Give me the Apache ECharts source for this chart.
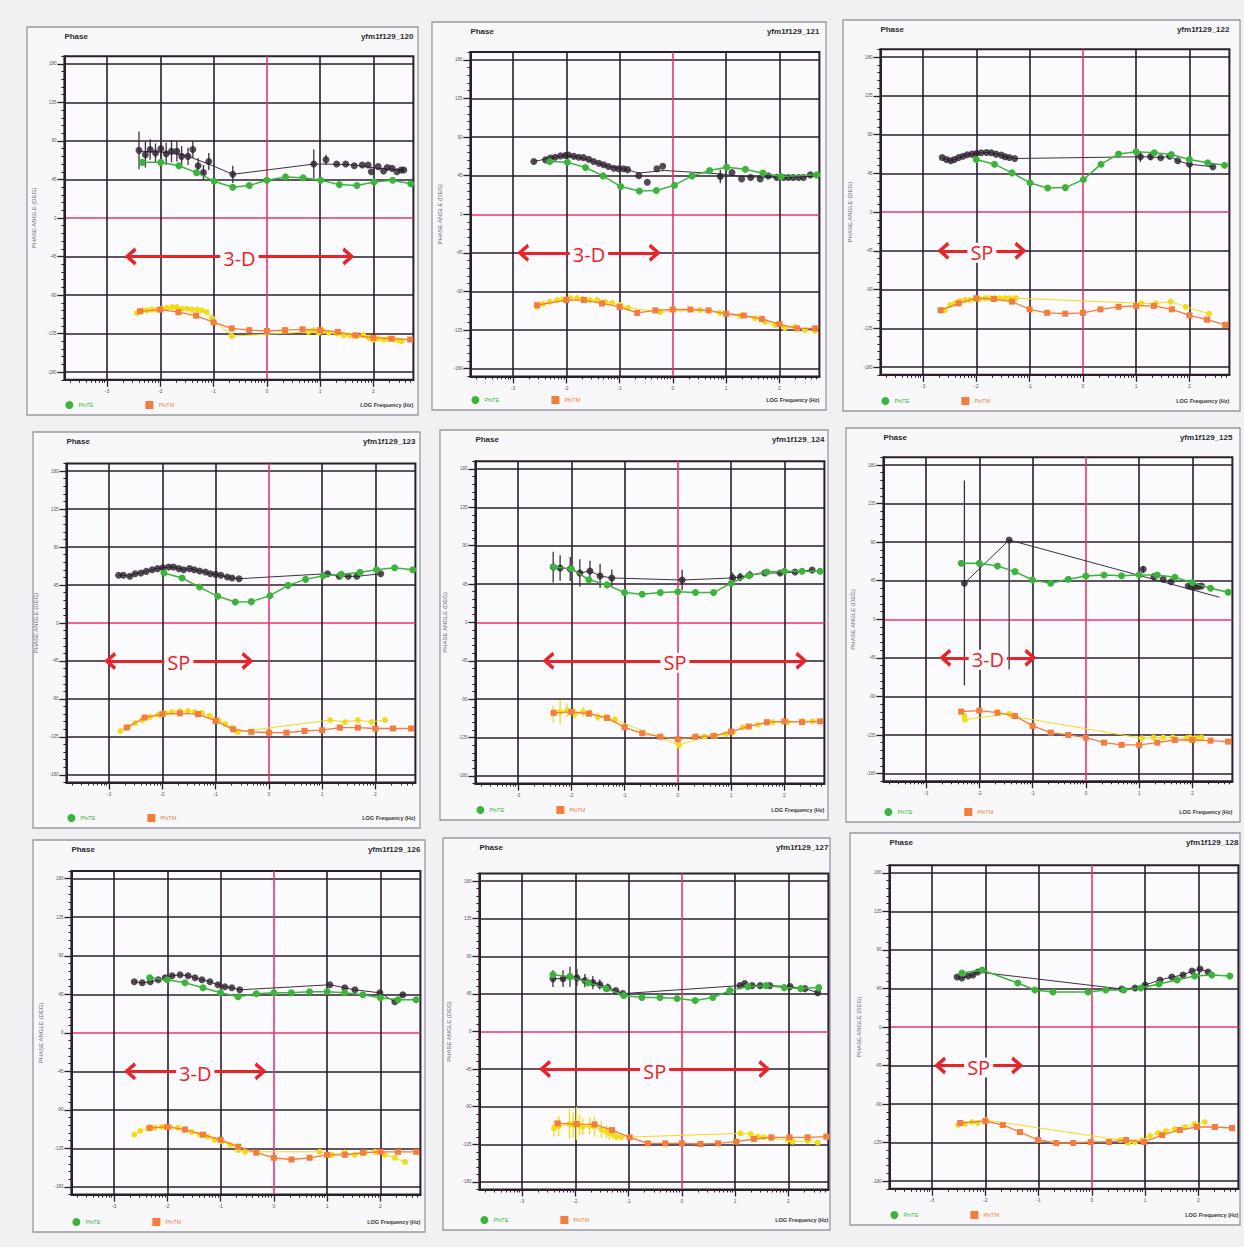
<!DOCTYPE html>
<html><head><meta charset="utf-8">
<script src="https://cdn.jsdelivr.net/npm/echarts@6/dist/echarts.min.js"></script>
<style>html,body{margin:0;padding:0;background:#f1f1f4;}#c{width:1244px;height:1247px;}</style>
</head><body><div id="c"></div>
<script>
// ---------- axis ticks ----------
const xTicks = [-3, -2, -1, 0, 1, 2];
const yTicks = [-180, -135, -90, -45, 0, 45, 90, 135, 180];
const xRange = [-3.8, 2.75];
const yRange = [-189, 189];
const siteIds = ['yfm1f129_120','yfm1f129_121','yfm1f129_122','yfm1f129_123','yfm1f129_124','yfm1f129_125','yfm1f129_126','yfm1f129_127','yfm1f129_128'];
const arrowLabels = ['3-D','3-D','SP','SP','SP','3-D','3-D','SP','SP'];
const arrowSpans = [[-2.56,1.53],[-2.81,-0.34],[-2.62,-1.17],[-2.98,-0.40],[-2.43,2.32],[-2.64,-1.04],[-2.70,-0.25],[-2.57,1.55],[-2.85,-1.40]];
const arrowLevel = -45;

// ---------- data: [logF, phase, err] (black = TE observed, yellow = TM observed) ----------
const te120 = [[-2.40,79,22],[-2.28,74,15],[-2.19,80,12],[-2.09,76,11],[-1.99,81,12],[-1.89,75,13],[-1.79,78,13],[-1.69,78,12],[-1.60,72,12],[-1.48,72,10],[-1.39,80,10],[-1.29,61,9],[-1.19,53,9],[-1.09,66,10],[-0.64,51,10],[0.88,63,17],[1.11,68,6],[1.31,63,0],[1.48,63,0],[1.64,61,0],[1.79,62,0],[1.90,62,0],[1.96,54,0],[2.09,60,0],[2.19,55,0],[2.26,59,0],[2.35,58,0],[2.44,54,0],[2.52,56,0],[2.57,56,0]];
const teLine120 = [[-2.40,78],[-1.99,77],[-1.60,74],[-1.39,70],[-1.09,63],[-0.64,51],[0.88,63],[1.11,63],[1.64,62],[2.09,58],[2.57,56]];
const teCalc120 = [[-2.34,65],[-1.99,65],[-1.65,61],[-1.32,53],[-0.99,43],[-0.64,36],[-0.33,38],[0,44],[0.35,48],[0.68,47],[1.01,44],[1.36,39],[1.69,38],[2.01,42],[2.36,44],[2.70,40]];
const tm120 = [[-2.44,-111],[-2.34,-108],[-2.25,-108],[-2.16,-107],[-2.06,-107],[-1.97,-106],[-1.88,-105],[-1.78,-104],[-1.69,-104],[-1.59,-106],[-1.50,-106],[-1.41,-107],[-1.31,-107],[-1.22,-108],[-1.13,-110],[-1.03,-117],[-0.66,-138],[0.78,-133],[0.88,-131],[0.97,-134],[1.06,-132],[1.16,-134],[1.31,-135],[1.44,-137],[1.56,-137],[1.69,-138],[1.81,-137],[1.91,-140],[2.00,-142],[2.09,-141],[2.19,-142],[2.28,-141],[2.38,-142],[2.47,-143],[2.53,-144]];
const tmCalc120 = [[-2.38,-109],[-2.0,-107],[-1.66,-110],[-1.33,-114],[-1.0,-122],[-0.66,-129],[-0.33,-131],[0,-132],[0.34,-131],[0.67,-130],[1.0,-131],[1.33,-133],[1.66,-137],[2.0,-140],[2.34,-141],[2.69,-142]];

const te121 = [[-2.61,61.5,0],[-2.39,63.4,0],[-2.30,65.4,0],[-2.21,66.5,0],[-2.11,68,0],[-2.02,68.5,0],[-1.96,69,0],[-1.86,67.5,0],[-1.77,66.5,0],[-1.68,66,0],[-1.58,64,0],[-1.49,61.5,0],[-1.39,59.5,0],[-1.30,57.6,0],[-1.21,55.6,0],[-1.11,53.7,0],[-1.02,53,0],[-0.93,53,0],[-0.85,52,0],[-0.64,45,0],[-0.48,37.4,0],[-0.30,53,0],[-0.19,56,0],[0.89,44,8],[1.11,48.6,0],[1.29,41.2,0],[1.46,42.8,0],[1.64,41.2,0],[1.79,44.7,0],[1.95,42.8,0],[2.08,42.8,0],[2.17,42.8,0],[2.26,42.8,0],[2.36,42.8,0],[2.45,42.8,0],[2.58,45.9,0]];
const teLine121 = [[-2.61,61.5],[-2.30,65.4],[-2.02,68.5],[-1.77,66.5],[-1.49,61.5],[-1.21,55.6],[-0.93,53],[-0.64,48],[-0.48,49],[-0.15,51],[0.89,47],[1.29,44],[1.79,43],[2.58,44]];
const teCalc121 = [[-2.31,61.5],[-1.98,60.7],[-1.64,54.5],[-1.31,44.7],[-0.98,32.3],[-0.63,27.2],[-0.31,27.6],[0.03,33.9],[0.36,44.7],[0.69,51],[1.01,54.9],[1.36,52.5],[1.69,47.9],[2.03,44],[2.70,45.9]];
const tm121 = [[-2.55,-108],[-2.44,-104.5],[-2.31,-102],[-2.17,-100],[-2.06,-99],[-1.93,-97.6],[-1.80,-97.6],[-1.69,-98.7],[-1.56,-100],[-1.42,-100],[-1.27,-102],[-1.14,-103.4],[-0.99,-105.7],[-0.84,-109],[-0.24,-114],[0.51,-111.5],[0.88,-115],[1.26,-118.5],[1.54,-121],[1.73,-125.5],[1.92,-129],[2.10,-132.5],[2.29,-131.4],[2.48,-135],[2.67,-136]];
const tmCalc121 = [[-2.55,-106],[-2.0,-100],[-1.67,-100],[-1.33,-104],[-1.0,-108],[-0.67,-115],[-0.33,-112],[0,-111],[0.33,-111],[0.67,-112],[1.0,-116],[1.33,-118],[1.67,-122],[2.0,-128],[2.33,-133],[2.67,-133]];

const te122 = [[-2.64,63.4,0],[-2.56,61,0],[-2.48,59.5,0],[-2.41,61,0],[-2.33,63.4,0],[-2.25,64.9,0],[-2.17,66.5,0],[-2.08,67.3,0],[-2.0,68,0],[-1.91,68.8,0],[-1.81,69.2,0],[-1.72,68.8,0],[-1.63,67.3,0],[-1.53,66.1,0],[-1.46,64.2,0],[-1.38,63.4,0],[-1.28,62.2,0],[1.08,64.2,6],[1.27,64.2,4],[1.46,63,0],[1.63,64.9,0],[1.78,59.5,0],[2.0,55.6,0],[2.44,52.5,0]];
const teCalc122 = [[-2.0,61],[-1.66,55.6],[-1.33,45.5],[-0.99,33.8],[-0.66,28],[-0.33,28.4],[0.01,37.7],[0.34,55.6],[0.67,67.3],[1.0,70],[1.34,68.8],[1.66,66.9],[2.0,61],[2.34,57.2],[2.66,54.4]];
const tm122 = [[-2.59,-114],[-2.49,-108],[-2.40,-106],[-2.31,-103],[-2.21,-102],[-2.12,-102],[-2.02,-101],[-1.93,-101],[-1.83,-100],[-1.74,-100],[-1.65,-100],[-1.56,-100],[-1.46,-100],[-1.37,-100],[-1.26,-100],[1.10,-106],[1.37,-106],[1.65,-104],[1.93,-110],[2.37,-118]];
const tmCalc122 = [[-2.67,-114],[-2.33,-106],[-2.0,-100],[-1.67,-101],[-1.33,-104],[-1.0,-113],[-0.67,-117],[-0.33,-118],[0,-117],[0.33,-113],[0.67,-110],[1.0,-109],[1.33,-109],[1.67,-113],[2.0,-120],[2.33,-125],[2.67,-131]];

const te123 = [[-2.82,56.5,0],[-2.73,56.5,0],[-2.61,55.3,0],[-2.51,58.4,0],[-2.40,59.2,0],[-2.30,61.2,0],[-2.19,63.2,0],[-2.09,64.4,0],[-1.99,65.5,0],[-1.88,66.3,0],[-1.79,66.3,0],[-1.69,64.4,0],[-1.60,63.2,0],[-1.49,64.4,0],[-1.40,63.2,0],[-1.30,61.6,0],[-1.19,60.4,0],[-1.10,58.4,0],[-1.0,57.6,0],[-0.90,56.5,0],[-0.78,54.5,0],[-0.69,53.3,0],[-0.56,52.5,0],[1.10,58.4,0],[1.32,55.3,0],[1.49,55.3,0],[1.65,55.3,0],[2.10,58.4,0]];
const teCalc123 = [[-1.97,59.2],[-1.63,53.3],[-1.30,42.6],[-0.96,31.6],[-0.63,24.9],[-0.33,25.3],[0.02,32.4],[0.36,44.6],[0.69,51.7],[1.02,56.1],[1.36,57.6],[1.71,60],[2.02,63.2],[2.36,65.5],[2.70,63.2]];
const tm123 = [[-2.79,-128],[-2.64,-123],[-2.51,-118.5],[-2.38,-115],[-2.23,-111.4],[-2.08,-109],[-1.95,-106.6],[-1.82,-105.5],[-1.67,-104.3],[-1.52,-104.3],[-1.39,-105.5],[-1.26,-106.6],[-1.11,-110],[-0.95,-115],[-0.82,-119.7],[-0.69,-124.4],[-0.58,-129],[1.15,-115],[1.43,-117.3],[1.67,-115],[1.93,-117.3],[2.18,-115]];
const tmCalc123 = [[-2.67,-124],[-2.33,-112],[-2.0,-108],[-1.67,-107],[-1.33,-108],[-1.0,-116],[-0.67,-126],[-0.33,-129],[0,-130],[0.33,-130],[0.67,-128],[1.0,-127],[1.33,-124],[1.67,-124],[2.0,-125],[2.33,-125],[2.67,-125]];

const te124 = [[-2.34,64.9,18],[-2.21,63.8,15],[-2.02,62.6,14],[-1.84,57.9,16],[-1.65,60.3,12],[-1.46,54.4,14],[-1.24,52.1,10],[0.08,49.7,12],[1.03,52.1,6],[1.17,53.2,5],[1.35,55.6,5],[1.63,57.9,0],[1.92,57.9,0],[2.20,59.1,0],[2.52,61.4,0]];
const teCalc124 = [[-2.33,65],[-2.0,63],[-1.67,50],[-1.33,44],[-1.0,35],[-0.67,33],[-0.33,35],[0,36],[0.33,35],[0.67,35],[1.0,46],[1.33,55],[1.67,59],[2.0,60],[2.33,60],[2.67,60]];
const tm124 = [[-2.34,-107,10],[-2.21,-105,14],[-2.08,-103,8],[-1.93,-107,6],[-1.78,-105,6],[-1.65,-106,5],[-1.50,-111,5],[-1.35,-111,4],[-1.18,-114,4],[0.02,-144,5],[0.5,-134,0],[0.7,-133,0],[0.9,-131,0],[1.03,-129,0],[1.22,-123,0],[1.5,-120,0],[1.78,-117,0],[2.06,-117,0],[2.34,-116,0],[2.53,-116,0]];
const tmCalc124 = [[-2.33,-106],[-2.0,-105],[-1.67,-107],[-1.33,-112],[-1.0,-123],[-0.67,-130],[-0.33,-134],[0,-137],[0.33,-134],[0.67,-133],[1.0,-128],[1.33,-122],[1.67,-117],[2.0,-116],[2.33,-117],[2.67,-116]];

// [logF, phase, errDown, errUp]
const te125 = [[-2.28,42,119,120],[-1.44,92.5,151,0],[1.075,58.3,4,4],[1.275,49.8,0,0],[1.45,46.7,0,0],[1.6,43.9,0,0],[1.92,38.9,0,0],[1.98,38.1,0,0],[2.04,38.1,0,0],[2.11,38.1,0,0],[2.17,38.9,0,0]];
const teLine125 = [[-2.28,42],[-1.44,92.5],[2.51,25.7]];
const teCalc125 = [[-2.34,65.3],[-2.0,65.3],[-1.66,62.2],[-1.33,55.6],[-1.0,45.9],[-0.66,42],[-0.33,46.7],[0,50.5],[0.34,51.7],[0.67,50.9],[1.0,51.7],[1.34,51.7],[1.67,49],[2.0,42.8],[2.34,36.2],[2.67,31.5]];
const tm125 = [[-2.28,-112.8,3],[-2.27,-117,3],[-1.44,-110.4,3],[-1.38,-113,0],[1.05,-138.8,0],[1.27,-138,0],[1.45,-138,0],[1.63,-138,0],[1.89,-138.8,0],[1.95,-138,0],[2.04,-138.8,0],[2.10,-138.8,0],[2.17,-138,0]];
const tmCalc125 = [[-2.34,-107.7],[-2.0,-106.5],[-1.66,-108.9],[-1.33,-112.8],[-1.0,-124.4],[-0.66,-132.2],[-0.33,-134.9],[0,-138],[0.34,-143.9],[0.67,-146.6],[1.0,-146.6],[1.34,-143.9],[1.67,-140.8],[2.0,-140.8],[2.34,-141.6],[2.67,-142.7]];

const te126 = [[-2.62,59.6,0],[-2.47,58.4,0],[-2.32,59.6,0],[-2.17,61.9,0],[-2.04,64.3,0],[-1.91,66.6,0],[-1.76,67.8,0],[-1.61,66.6,0],[-1.48,64.3,0],[-1.35,61.9,0],[-1.20,59.6,0],[-1.05,56.1,0],[-0.92,53.7,0],[-0.79,52.6,0],[-0.64,50.2,0],[1.05,56.1,0],[1.33,52.6,0],[1.52,50.2,0],[1.99,46.7,0],[2.27,36.2,0],[2.42,44.4,0]];
const teCalc126 = [[-2.33,64.3],[-2.0,61.9],[-1.67,58.4],[-1.33,52.6],[-1.0,46.7],[-0.67,42.1],[-0.33,45.6],[0,46.7],[0.33,46.7],[0.67,47.9],[1.0,47.9],[1.33,46.7],[1.67,44.4],[2.0,40.9],[2.33,38.6],[2.67,38.6]];
const tm126 = [[-2.62,-119],[-2.51,-114.5],[-2.36,-112],[-2.23,-111],[-2.10,-110],[-1.95,-110],[-1.80,-111],[-1.67,-113],[-1.54,-116],[-1.39,-119],[-1.24,-121.5],[-1.11,-125],[-0.97,-127],[-0.82,-131],[-0.67,-137],[-0.54,-139],[0.86,-139],[1.09,-142.5],[1.33,-140],[1.52,-142.5],[1.71,-140],[1.90,-139],[2.08,-142.5],[2.27,-146],[2.46,-150.7]];
const tmCalc126 = [[-2.33,-111],[-2.0,-110],[-1.67,-113],[-1.33,-119],[-1.0,-125],[-0.67,-133],[-0.33,-140],[0,-146],[0.33,-148],[0.67,-146],[1.0,-142.5],[1.33,-142.5],[1.67,-140],[2.0,-139],[2.33,-139],[2.67,-139]];

const te127 = [[-2.42,63.2,10],[-2.23,63.2,10],[-2.10,65.6,12],[-1.97,64.4,10],[-1.82,60.9,8],[-1.67,58.5,8],[-1.54,56.1,6],[-1.39,52.5,5],[-1.24,48.9,0],[-1.11,45.3,0],[1.09,54.9,0],[1.18,57.3,0],[1.32,54.9,0],[1.47,54.9,0],[1.65,54.9,0],[2.03,53.7,0],[2.31,51.3,0],[2.55,46.5,0]];
const teCalc127 = [[-2.42,68],[-2.10,65.6],[-1.76,58.5],[-1.42,51.3],[-1.09,43],[-0.75,40.6],[-0.41,40.6],[-0.09,39.4],[0.25,37],[0.58,40.6],[0.90,48.9],[1.24,53.7],[1.58,54.9],[1.92,52.5],[2.23,51.3],[2.57,52.5]];
const tm127 = [[-2.40,-115.9,10],[-2.31,-113.1,12],[-2.11,-110.7,18],[-2.04,-111.9,15],[-1.98,-109.9,20],[-1.92,-111.9,12],[-1.86,-113.9,10],[-1.73,-113.1,10],[-1.64,-113.9,12],[-1.51,-117.1,10],[-1.42,-119.9,8],[-1.36,-121.9,8],[-1.29,-123.1,6],[-1.23,-125.8,5],[-1.14,-126.6,0],[1.10,-121.9,0],[1.29,-122.7,0],[1.43,-125.8,0],[1.54,-126.6,0],[1.68,-127.8,0],[1.99,-129.8,0],[2.08,-131.8,0],[2.36,-131,0],[2.55,-133,0]];
const tmCalc127 = [[-2.33,-109.9],[-1.98,-110.7],[-1.64,-111.1],[-1.31,-117.9],[-0.98,-126.6],[-0.64,-133.8],[-0.31,-133.8],[0,-133.8],[0.35,-134.6],[0.68,-133.8],[1.02,-131.8],[1.35,-128.6],[1.68,-126.6],[2.02,-126.6],[2.36,-126.6],[2.71,-125.8]];

const te128 = [[-2.53,58.4,0],[-2.44,57.2,0],[-2.32,59.6,0],[-2.23,60.7,0],[-2.14,64.3,0],[0.56,44.4,0],[0.81,45.6,0],[1.0,49.1,0],[1.28,54.9,0],[1.50,58.4,0],[1.71,60.7,0],[1.88,65.4,0],[2.03,67.8,0],[2.18,64.3,0]];
const teCalc128 = [[-2.44,63.1],[-2.06,66.6],[-1.39,51.4],[-1.07,43.2],[-0.73,40.9],[-0.07,40.9],[0.26,43.2],[0.6,43.2],[0.92,45.6],[1.26,50.2],[1.6,54.9],[1.93,59.6],[2.25,60.7],[2.59,59.6]];
const tm128 = [[-2.51,-114.5],[-2.38,-113.3],[-2.25,-111],[-2.14,-112.1],[-2.0,-108.6],[0.53,-132],[0.68,-135.5],[0.81,-134.3],[0.94,-132],[1.09,-127.3],[1.24,-123.8],[1.39,-121.5],[1.56,-119.2],[1.75,-116.8],[1.93,-113.3],[2.12,-111]];
const tmCalc128 = [[-2.47,-112.1],[-2.0,-109.8],[-1.67,-114.5],[-1.35,-122.7],[-1.01,-132],[-0.67,-135.5],[-0.35,-135.5],[-0.02,-134.3],[0.32,-134.3],[0.64,-132],[0.98,-134.3],[1.32,-126.2],[1.65,-120.3],[1.97,-116.8],[2.31,-116.8],[2.63,-118]];

// ---------- layout (pixels) ----------
const frameBoxes = [[27,27,391,388],[432,22,394,388],[843,20,397,391],[33,432,387,396],[440,430,388,390],[846,428,394,394],[33,840,392,392],[443,838,387,392],[850,833,390,392]];
const gridBoxes = [[64.4,56.2,349,323.6],[470.4,52.1,349,324.3],[880.4,49.3,349,325.5],[66.4,463.5,349,319],[475.4,461.2,349,322.4],[883.4,457.3,349,324],[71.4,871,349,323.6],[479.4,873.5,349,316],[889.4,865.2,349,323.6]];

const DARK = '#2b1f2d', RED = '#e6386c', GREEN = '#3cb43c', ORANGE = '#f47c3c', YELLOW = '#f2dc1a', ARROW = '#e8232a';
const FONT = 'Liberation Sans, Arial, sans-serif';

const panels = [
  {te: te120, teLine: teLine120, teCalc: teCalc120, tm: tm120, tmCalc: tmCalc120},
  {te: te121, teLine: teLine121, teCalc: teCalc121, tm: tm121, tmCalc: tmCalc121},
  {te: te122, teLine: null, teCalc: teCalc122, tm: tm122, tmCalc: tmCalc122},
  {te: te123, teLine: null, teCalc: teCalc123, tm: tm123, tmCalc: tmCalc123},
  {te: te124, teLine: null, teCalc: teCalc124, tm: tm124, tmCalc: tmCalc124},
  {te: te125, teLine: teLine125, teCalc: teCalc125, tm: tm125, tmCalc: tmCalc125},
  {te: te126, teLine: null, teCalc: teCalc126, tm: tm126, tmCalc: tmCalc126},
  {te: te127, teLine: null, teCalc: teCalc127, tm: tm127, tmCalc: tmCalc127},
  {te: te128, teLine: null, teCalc: teCalc128, tm: tm128, tmCalc: tmCalc128}
];

const minorX = [];
for (let d = -4; d <= 2; d++) for (let k = 2; k <= 9; k++) {
  const v = d + Math.log10(k);
  if (v > xRange[0] && v < xRange[1]) minorX.push(v);
}

function errData(arr) {
  return arr.map(d => [d[0], d[1], d[2] || 0, d.length > 3 ? d[3] : (d[2] || 0)]);
}
function errSeries(arr, xi, yi, color) {
  return {
    type: 'custom', xAxisIndex: xi, yAxisIndex: yi, silent: true, z: 3, clip: true,
    data: errData(arr).filter(d => d[2] > 0 || d[3] > 0),
    renderItem: (params, api) => {
      const x = api.value(0), y = api.value(1);
      const p1 = api.coord([x, y - api.value(2)]);
      const p2 = api.coord([x, y + api.value(3)]);
      return {type: 'line', shape: {x1: p1[0], y1: p1[1], x2: p2[0], y2: p2[1]}, style: {stroke: color, lineWidth: 1.3}};
    }
  };
}
const chevron = 'path://M0,11 L10,0 L20,11 L16.5,13 L10,5.5 L3.5,13 Z';

const option = {
  backgroundColor: '#f1f1f4', animation: false,
  grid: [], xAxis: [], yAxis: [], series: [], title: [], legend: [], graphic: []
};

panels.forEach((p, i) => {
  const [gl, gt, gw, gh] = gridBoxes[i];
  const [fl, ft, fw, fh] = frameBoxes[i];
  option.graphic.push({type: 'rect', z: -100, silent: true, shape: {x: fl, y: ft, width: fw, height: fh},
    style: {fill: '#f8f8fb', stroke: '#9a96a2', lineWidth: 1.3}});
  option.grid.push({left: gl, top: gt, width: gw, height: gh, show: true, backgroundColor: '#fbfbfd', borderColor: DARK, borderWidth: 2});
  const xi = 2 * i, yi = 2 * i;
  option.xAxis.push({
    type: 'value', gridIndex: i, min: xRange[0], max: xRange[1], position: 'bottom',
    axisLine: {show: true, onZero: false, lineStyle: {color: DARK, width: 2}},
    axisTick: {show: true, customValues: xTicks, length: 7, lineStyle: {color: DARK, width: 1.3}},
    axisLabel: {show: true, customValues: xTicks, fontSize: 5, color: '#555', margin: 9, fontFamily: FONT},
    splitLine: {show: true, lineStyle: {color: [DARK, DARK, DARK, RED, DARK, DARK], width: 1.6}}
  });
  option.xAxis.push({
    type: 'value', gridIndex: i, min: xRange[0], max: xRange[1], position: 'bottom',
    axisLine: {show: false, onZero: false}, axisLabel: {show: false}, splitLine: {show: false},
    axisTick: {show: true, customValues: minorX, length: 3, lineStyle: {color: DARK, width: 1}}
  });
  option.yAxis.push({
    type: 'value', gridIndex: i, min: yRange[0], max: yRange[1], position: 'left',
    name: 'PHASE ANGLE (DEG)', nameLocation: 'middle', nameGap: 27, nameRotate: 90,
    nameTextStyle: {fontSize: 6, color: '#6b6878', fontFamily: FONT},
    axisLine: {show: true, onZero: false, lineStyle: {color: DARK, width: 2}},
    axisTick: {show: true, customValues: yTicks, length: 7, lineStyle: {color: DARK, width: 1.3}},
    axisLabel: {show: true, customValues: yTicks, fontSize: 4.5, color: '#555', margin: 8, fontFamily: FONT},
    splitLine: {show: true, lineStyle: {color: [DARK, DARK, DARK, DARK, RED, DARK, DARK, DARK, DARK], width: 1.6}}
  });
  option.yAxis.push({
    type: 'value', gridIndex: i, min: yRange[0], max: yRange[1], interval: 9, position: 'left',
    axisLine: {show: false, onZero: false}, axisLabel: {show: false}, splitLine: {show: false},
    axisTick: {show: true, length: 3, lineStyle: {color: DARK, width: 1}}
  });

  option.title.push({text: 'Phase', left: gl, top: ft + 5, padding: 0,
    textStyle: {fontSize: 8, fontWeight: 'bold', color: '#2a2a30', fontFamily: FONT}});
  option.title.push({text: siteIds[i], right: 1244 - (gl + gw), top: ft + 5, padding: 0,
    textStyle: {fontSize: 8, fontWeight: 'bold', color: '#2a2a30', fontFamily: FONT}});
  option.title.push({text: 'LOG Frequency (Hz)', right: 1244 - (gl + gw), top: ft + fh - 13, padding: 0,
    textStyle: {fontSize: 5.5, color: '#333', fontFamily: FONT}});
  option.legend.push({
    left: gl + 1, top: ft + fh - 14, padding: 0, itemWidth: 8, itemHeight: 8, itemGap: 52, selectedMode: false,
    textStyle: {fontSize: 5.5, fontFamily: FONT},
    data: [{name: 'PhiTE', icon: 'circle', textStyle: {color: GREEN}}, {name: 'PhiTM', icon: 'rect', textStyle: {color: ORANGE}}]
  });

  // TE observed (black)
  option.series.push({type: 'line', xAxisIndex: xi, yAxisIndex: yi, silent: true, z: 3, symbol: 'none',
    data: (p.teLine || p.te).map(d => [d[0], d[1]]), lineStyle: {color: '#3e3040', width: 1}});
  option.series.push(errSeries(p.te, xi, yi, '#3e3040'));
  option.series.push({type: 'scatter', xAxisIndex: xi, yAxisIndex: yi, silent: true, z: 4, symbolSize: 7,
    data: p.te.map(d => [d[0], d[1]]), itemStyle: {color: DARK}});
  // TE calc (green)
  option.series.push({name: 'PhiTE', type: 'line', xAxisIndex: xi, yAxisIndex: yi, z: 5, symbol: 'circle', symbolSize: 7,
    data: p.teCalc, itemStyle: {color: GREEN}, lineStyle: {color: GREEN, width: 1.5}});
  // TM observed (yellow)
  option.series.push(errSeries(p.tm, xi, yi, YELLOW));
  option.series.push({type: 'line', xAxisIndex: xi, yAxisIndex: yi, silent: true, z: 4, symbol: 'circle', symbolSize: 6,
    data: p.tm.map(d => [d[0], d[1]]), itemStyle: {color: YELLOW}, lineStyle: {color: YELLOW, width: 1}});
  // TM calc (orange)
  option.series.push({name: 'PhiTM', type: 'line', xAxisIndex: xi, yAxisIndex: yi, z: 5, symbol: 'rect', symbolSize: 6,
    data: p.tmCalc, itemStyle: {color: ORANGE}, lineStyle: {color: ORANGE, width: 1.3}});
  // annotation arrow
  option.series.push({type: 'line', xAxisIndex: xi, yAxisIndex: yi, data: [], silent: true, z: 6,
    markLine: {silent: true, symbol: [chevron, chevron], symbolSize: [18, 12], symbolKeepAspect: false,
      lineStyle: {color: ARROW, width: 3, type: 'solid'},
      label: {show: true, position: 'middle', formatter: arrowLabels[i], fontSize: 20, color: ARROW,
        fontFamily: 'Open Sans, Noto Sans, sans-serif', backgroundColor: '#fbfbfd', padding: [0, 3], distance: -12},
      data: [[{coord: [arrowSpans[i][0], arrowLevel]}, {coord: [arrowSpans[i][1], arrowLevel]}]]}});
});

const chart = echarts.init(document.getElementById('c'), null, {renderer: 'svg'});
chart.setOption(option);
</script>
</body></html>
